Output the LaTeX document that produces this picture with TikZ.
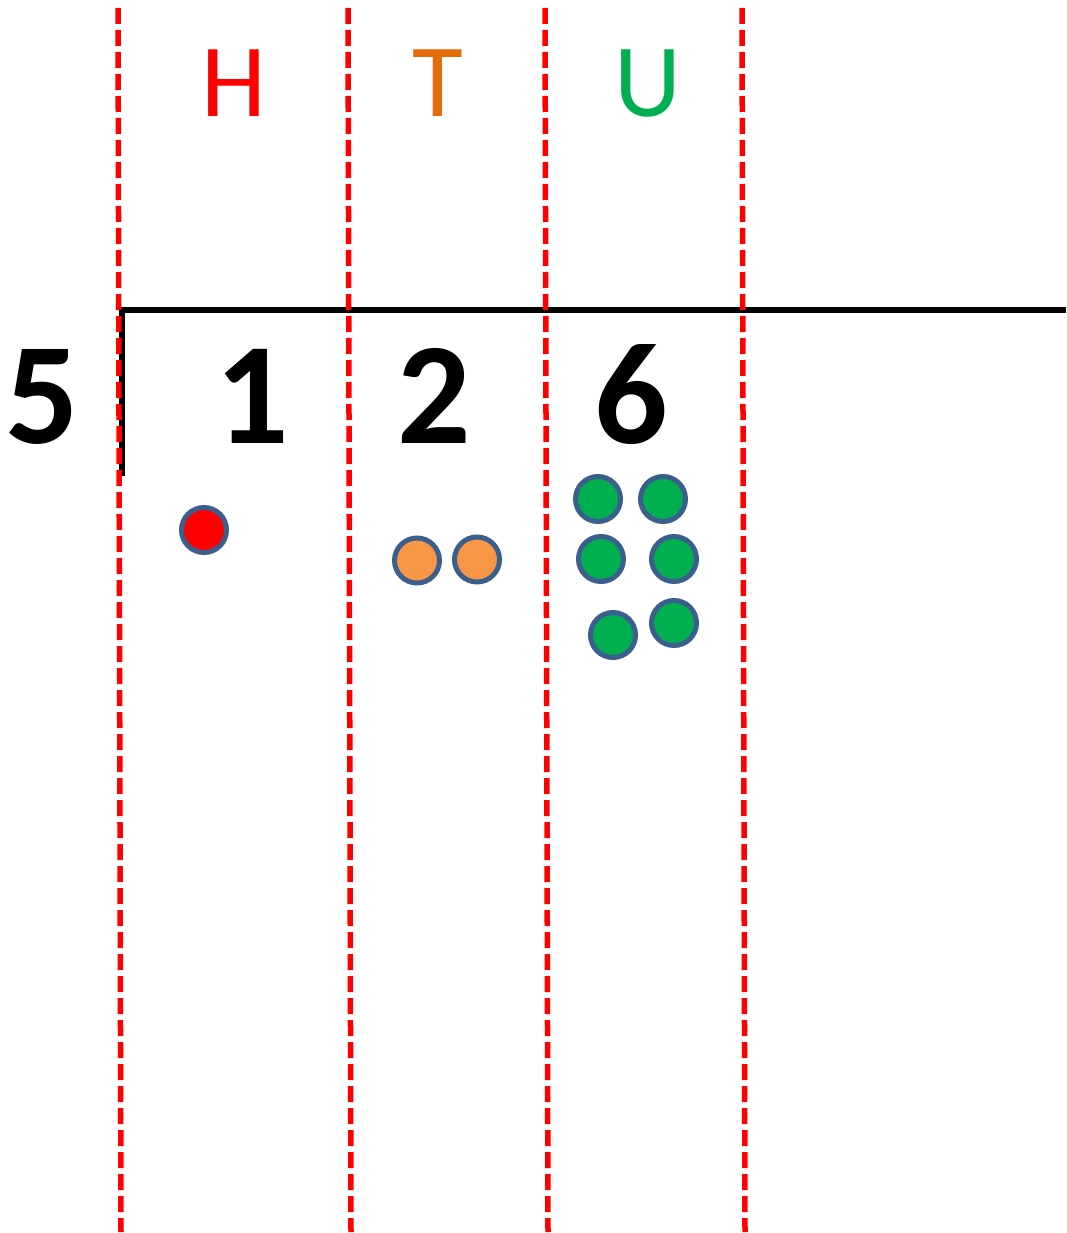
\documentclass[tikz,border=0pt]{standalone}
\usepackage{fontspec}
\setmainfont{Carlito}
\definecolor{ring}{HTML}{3B5E8C}
\definecolor{ored}{HTML}{FF0000}
\definecolor{oorange}{HTML}{F79646}
\definecolor{ogreen}{HTML}{00B050}
\definecolor{torange}{HTML}{E46C0A}
\tikzset{
  sep/.style={draw=red, line width=5.5pt, dash pattern=on 16pt off 6pt},
  rule/.style={draw=black, line width=6.5pt},
  digit/.style={anchor=base, font=\fontsize{145}{145}\selectfont\bfseries, inner sep=0pt},
  head/.style={anchor=base, font=\fontsize{104}{104}\selectfont, inner sep=0pt},
  counter/.style={circle, draw=ring, line width=5pt, minimum size=45pt, inner sep=0pt},
}
\begin{document}
\begin{tikzpicture}[x=1pt,y=-1pt]
\useasboundingbox (0,0) rectangle (1066,1233);
% column separators
\coordinate (s1t) at (118,8);   \coordinate (s1b) at (121,1232);
\coordinate (s2t) at (348,8);   \coordinate (s2b) at (351,1232);
\coordinate (s3t) at (545,8);   \coordinate (s3b) at (548,1232);
\coordinate (s4t) at (742,8);   \coordinate (s4b) at (745,1232);
% division bracket
\coordinate (bl) at (119.5,310);
\coordinate (br) at (1066,310);
\coordinate (vt) at (122,307);
\coordinate (vb) at (122,476);
\draw[rule] (bl) -- (br);
\draw[draw=black, line width=5.5pt] (vt) -- (vb);
\draw[sep] (s1t) -- (s1b);
\draw[sep] (s2t) -- (s2b);
\draw[sep] (s3t) -- (s3b);
\draw[sep] (s4t) -- (s4b);
% headings
\node[head, text=ored] (H) at (234,117) {H};
\node[head, text=torange] (T) at (438,117) {T};
\node[head, text=ogreen] (U) at (648,117) {U};
% numbers
\node[digit] (five) at (42,443) {5};
\node[digit] (one) at (252,443) {1};
\node[digit] (two) at (434,443) {2};
\node[digit] (six) at (631,443) {6};
% counters
\node[counter, fill=ored] (h1) at (204,530) {};
\node[counter, fill=oorange] (t1) at (417,560.5) {};
\node[counter, fill=oorange] (t2) at (477,559.5) {};
\node[counter, fill=ogreen] (u1) at (598,499) {};
\node[counter, fill=ogreen] (u2) at (663,499) {};
\node[counter, fill=ogreen] (u3) at (601,559) {};
\node[counter, fill=ogreen] (u4) at (674,559) {};
\node[counter, fill=ogreen] (u5) at (613,635) {};
\node[counter, fill=ogreen] (u6) at (674,623) {};
\end{tikzpicture}
\end{document}
